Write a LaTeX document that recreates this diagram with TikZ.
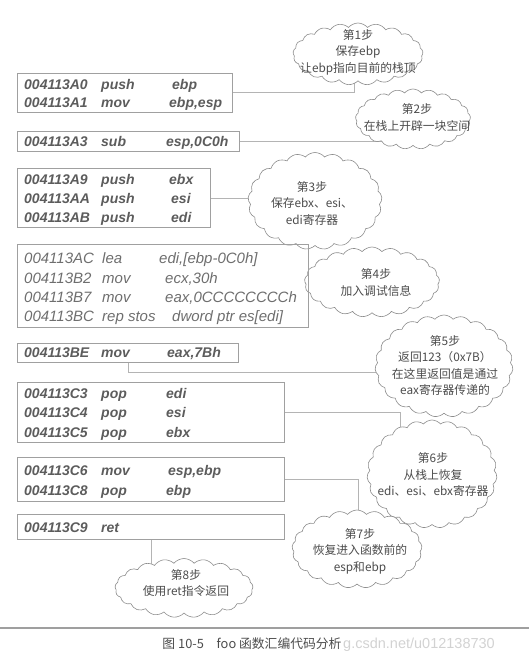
\documentclass[tikz,border=0pt]{standalone}
\usepackage{fontspec}
\setmainfont{Liberation Sans}
\newfontfamily\cjk{Noto Sans CJK SC}
\usetikzlibrary{shapes.symbols,calc,backgrounds}
\definecolor{boxline}{HTML}{A0A0A0}
\definecolor{asmtext}{HTML}{5C5C5C}
\definecolor{asmlight}{HTML}{6E6E6E}
\definecolor{cloudline}{HTML}{8C8C8C}
\definecolor{cloudtext}{HTML}{4C4C4C}
\definecolor{connline}{HTML}{B4B4B4}
\definecolor{wmark}{HTML}{D2D2D2}
\newcommand\asmline[6]{%
  \node[asm] (#1a) at (24,#2+5) {#3};
  \node[asm] (#1m) at (101,#2+5) {#4};
  \node[asm] (#1o) at (#5,#2+5) {#6};}
\newcommand\asmlinelight[6]{%
  \node[asml] (#1a) at (24,#2+5.4) {#3};
  \node[asml] (#1m) at (102,#2+5.4) {#4};
  \node[asml] (#1o) at (#5,#2+5.4) {#6};}
\begin{document}
\begin{tikzpicture}[x=1pt,y=-1pt,
  codebox/.style={draw=boxline, line width=0.8pt, inner sep=0pt, anchor=north west},
  asm/.style={anchor=base west, inner sep=0pt, text=asmtext, font=\fontsize{14}{16}\selectfont\bfseries\itshape},
  asml/.style={anchor=base west, inner sep=0pt, text=asmlight, font=\fontsize{15}{17}\selectfont\itshape},
  stepcloud/.style={cloud, cloud puffs=21, cloud puff arc=100, cloud ignores aspect,
     draw=cloudline, line width=0.6pt, fill=white, inner sep=0pt},
  cloudtxt/.style={align=center, inner sep=0pt, text=cloudtext, font=\cjk\fontsize{11.8}{16.5}\selectfont},
  conn/.style={draw=connline, line width=0.8pt}]
\useasboundingbox (0,0) rectangle (529,663);

% clouds
\node[stepcloud, minimum width=130, minimum height=62] (c1) at (358,54) {};
\node[stepcloud, minimum width=115, minimum height=60] (c2) at (413,119) {};
\node[stepcloud, minimum width=134, minimum height=97] (c3) at (315,201) {};
\node[stepcloud, minimum width=135, minimum height=70] (c4) at (372,282) {};
\node[stepcloud, minimum width=138, minimum height=102, cloud puffs=23] (c5) at (444,366) {};
\node[stepcloud, minimum width=130, minimum height=108, cloud puffs=23] (c6) at (432,474) {};
\node[stepcloud, minimum width=130, minimum height=78] (c7) at (357,549) {};
\node[stepcloud, minimum width=138, minimum height=59] (c8) at (184,588) {};

\node[cloudtxt] (t1) at (358,52) {第1步\\保存ebp\\让ebp指向目前的栈顶};
\node[cloudtxt] (t2) at (417,117.5) {第2步\\在栈上开辟一块空间};
\node[cloudtxt] (t3) at (312,203) {第3步\\保存ebx、esi、\\edi寄存器};
\node[cloudtxt] (t4) at (376,282.5) {第4步\\加入调试信息};
\node[cloudtxt] (t5) at (445,365.5) {第5步\\返回123（0x7B）\\在这里返回值是通过\\eax寄存器传递的};
\node[cloudtxt] (t6) at (433,474.5) {第6步\\从栈上恢复\\edi、esi、ebx寄存器};
\node[cloudtxt] (t7) at (360,551) {第7步\\恢复进入函数前的\\esp和ebp};
\node[cloudtxt] (t8) at (186,583) {第8步\\使用ret指令返回};

% code boxes
\node[codebox, minimum width=215, minimum height=39] (b1) at (17,73) {};
\node[codebox, minimum width=222, minimum height=20] (b2) at (17,131) {};
\node[codebox, minimum width=193, minimum height=59] (b3) at (17,168) {};
\node[codebox, minimum width=291, minimum height=83] (b4) at (17,244) {};
\node[codebox, minimum width=221, minimum height=19] (b5) at (17,343) {};
\node[codebox, minimum width=267, minimum height=60] (b6) at (17,382) {};
\node[codebox, minimum width=267, minimum height=44] (b7) at (17,457) {};
\node[codebox, minimum width=267, minimum height=25] (b8) at (17,514) {};

\asmline{l1}{85}{004113A0}{push}{172}{ebp}
\asmline{l2}{103}{004113A1}{mov}{169}{ebp,esp}
\asmline{l3}{142}{004113A3}{sub}{166}{esp,0C0h}
\asmline{l4}{179}{004113A9}{push}{169}{ebx}
\asmline{l5}{198}{004113AA}{push}{171}{esi}
\asmline{l6}{217}{004113AB}{push}{171}{edi}
\asmlinelight{l7}{258}{004113AC}{lea}{159}{edi,[ebp-0C0h]}
\asmlinelight{l8}{278}{004113B2}{mov}{165}{ecx,30h}
\asmlinelight{l9}{297}{004113B7}{mov}{165}{eax,0CCCCCCCCh}
\asmlinelight{l10}{316}{004113BC}{rep stos}{172}{dword ptr es[edi]}
\asmline{l11}{352}{004113BE}{mov}{167}{eax,7Bh}
\asmline{l12}{393}{004113C3}{pop}{166}{edi}
\asmline{l13}{412}{004113C4}{pop}{166}{esi}
\asmline{l14}{432}{004113C5}{pop}{166}{ebx}
\asmline{l15}{470}{004113C6}{mov}{168}{esp,ebp}
\asmline{l16}{490}{004113C8}{pop}{166}{ebp}
\node[asm] (l17a) at (24,532) {004113C9};
\node[asm] (l17m) at (101,532) {ret};

% rule and caption
\coordinate (rl) at (0,628);
\coordinate (rr) at (529,628);
\draw[draw=gray!75, line width=1.2pt] (rl) -- (rr);
\node[anchor=west, inner sep=0pt, text=wmark, font=\fontsize{14.5}{16}\selectfont] (wm) at (343,645) {g.csdn.net/u012138730};
\node[inner sep=0pt, text=cloudtext, font=\cjk\fontsize{12.8}{15}\selectfont] (cap) at (252,644) {图 10-5\hspace{1em}foo 函数汇编代码分析};

% connectors
\begin{pgfonlayer}{background}
\draw[conn] (b1.east) -| ([xshift=-4]c1.center);
\draw[conn] (b2.east) -- (b2.east -| c2.center);
\draw[conn] (b3.east) -- (b3.east -| c3.center);
\draw[conn] (b5.south) -- ++(0,10) coordinate (k5) -- (k5 -| c5.center);
\draw[conn] (b6.east) -| ([xshift=-32]c6.center);
\draw[conn] (b7.east) -| ([xshift=1]c7.center);
\draw[conn] (b8.south) -- (b8.south |- c8.center);
\end{pgfonlayer}
\end{tikzpicture}
\end{document}
